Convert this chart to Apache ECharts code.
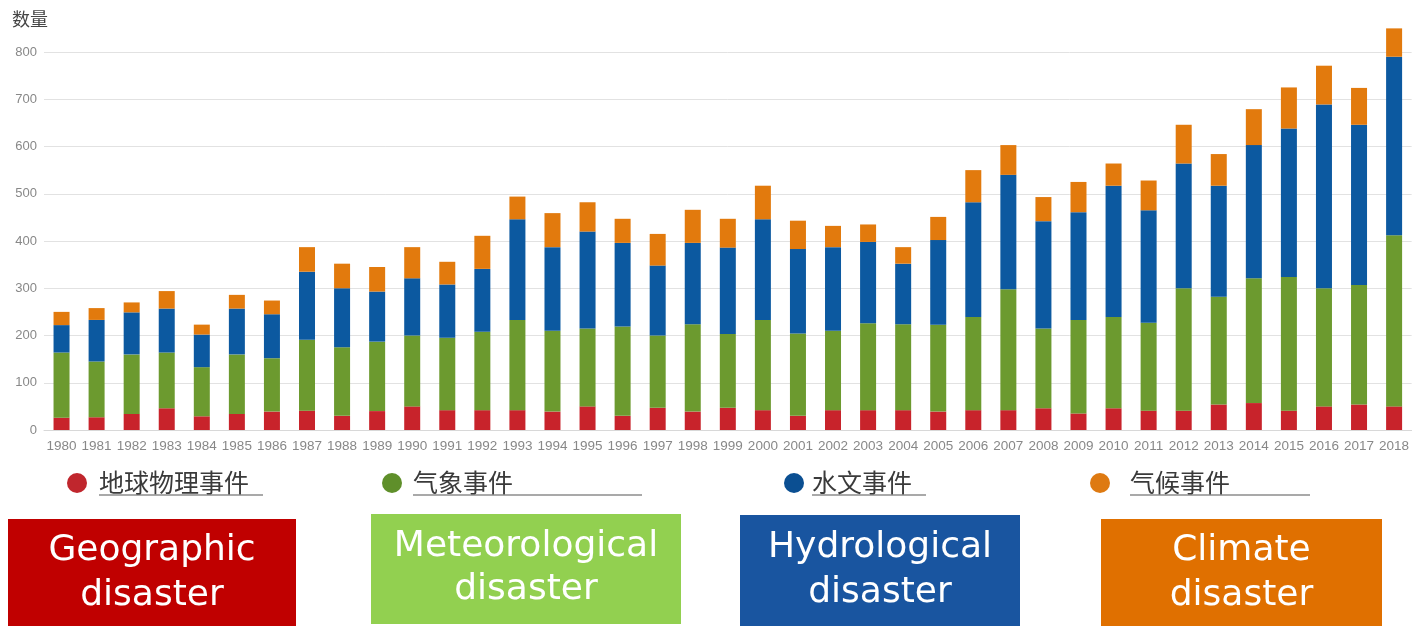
<!DOCTYPE html>
<html>
<head>
<meta charset="utf-8">
<script src="https://cdn.jsdelivr.net/npm/echarts@6/dist/echarts.min.js"></script>
<style>
html,body{margin:0;padding:0;background:#fff;}
#main{width:1412px;height:626px;}
</style>
</head>
<body>
<div id="main"></div>
<script>
var years = ['1980','1981','1982','1983','1984','1985','1986','1987','1988','1989','1990','1991','1992','1993','1994','1995','1996','1997','1998','1999','2000','2001','2002','2003','2004','2005','2006','2007','2008','2009','2010','2011','2012','2013','2014','2015','2016','2017','2018'];
var seriesNames = ['地球物理事件','气象事件','水文事件','气候事件'];
var geophysical = [26,27,34,46,29,34,39,41,30,40,50,42,42,42,39,50,30,47,39,47,42,30,42,42,42,39,42,42,46,35,46,41,41,54,57,41,50,54,50];
var meteorological = [138,118,126,118,104,126,113,150,145,147,150,153,166,191,171,165,189,153,185,156,191,174,168,184,182,184,197,256,169,198,193,186,259,228,264,283,250,253,362];
var hydrological = [58,88,89,93,69,97,93,144,125,106,121,113,133,213,177,205,177,148,172,183,213,179,177,172,128,179,243,242,227,228,278,238,264,235,282,314,389,339,378];
var climatological = [28,25,21,37,21,29,29,52,52,52,66,48,70,48,72,62,51,67,70,61,71,60,45,37,35,49,68,63,51,64,47,63,82,67,76,87,82,78,60];
var yTicks = [0,100,200,300,400,500,600,700,800];
var boxLines = [['Geographic','disaster'],['Meteorological','disaster'],['Hydrological','disaster'],['Climate','disaster']];

var barColors = ['#c8232b','#6c9a2f','#0c59a0','#e27a0d'];
var dotColors = ['#c0262d','#5f8f2a','#0b4f92','#de7a12'];
var boxColors = ['#c00000','#92d050','#1955a0','#e07000'];

var legendPos = [
  {cx:77, tx:99, ux2:263},
  {cx:392, tx:413, ux2:642},
  {cx:794, tx:812, ux2:926},
  {cx:1100, tx:1130, ux2:1310}
];
var boxPos = [
  {x:8, y:519, w:288, h:107, l1:551, l2:596},
  {x:371, y:514, w:310, h:110, l1:547, l2:590},
  {x:740, y:515, w:280, h:111, l1:548, l2:593},
  {x:1101, y:519, w:281, h:107, l1:551, l2:596}
];

var graphics = [{
  type:'text', left:12, top:10,
  style:{text:'数量', font:'18px "Noto Sans CJK SC"', fill:'#444'}
}];
seriesNames.forEach(function(n,i){
  var p = legendPos[i];
  graphics.push({type:'circle', shape:{cx:p.cx, cy:483, r:10}, style:{fill:dotColors[i]}});
  graphics.push({type:'text', x:p.tx, y:482, style:{text:n, font:'25px "Noto Sans CJK SC"', fill:'#3a3a3a', textVerticalAlign:'middle'}});
  graphics.push({type:'line', shape:{x1:p.tx, y1:495, x2:p.ux2, y2:495}, style:{stroke:'#555', lineWidth:1.2}});
});
boxLines.forEach(function(lines,i){
  var b = boxPos[i];
  graphics.push({type:'rect', shape:{x:b.x, y:b.y, width:b.w, height:b.h}, style:{fill:boxColors[i]}});
  graphics.push({type:'text', x:b.x+b.w/2, y:b.l1, style:{text:lines[0], font:'36px "DejaVu Sans"', fill:'#fff', textAlign:'center', textVerticalAlign:'middle'}});
  graphics.push({type:'text', x:b.x+b.w/2, y:b.l2, style:{text:lines[1], font:'36px "DejaVu Sans"', fill:'#fff', textAlign:'center', textVerticalAlign:'middle'}});
});

var dataSets = [geophysical, meteorological, hydrological, climatological];
var chart = echarts.init(document.getElementById('main'));
chart.setOption({
  animation:false,
  grid:{left:44, right:-9, top:52, bottom:196, containLabel:false},
  xAxis:{
    type:'category', data:years,
    axisTick:{show:false},
    axisLine:{lineStyle:{color:'#d8d8d8'}},
    axisLabel:{interval:0, color:'#888', fontSize:13.5, fontFamily:'Liberation Sans', margin:9}
  },
  yAxis:{
    type:'value', min:yTicks[0], max:yTicks[yTicks.length-1], interval:100,
    axisLine:{show:false}, axisTick:{show:false},
    axisLabel:{color:'#888', fontSize:13, fontFamily:'Liberation Sans', margin:7},
    splitLine:{lineStyle:{color:'#e2e2e2'}}
  },
  series: seriesNames.map(function(n,i){
    return {name:n, type:'bar', stack:'total', data:dataSets[i], barWidth:16, clip:false,
      itemStyle:{color:barColors[i]}};
  }),
  graphic: graphics
});
</script>
</body>
</html>
